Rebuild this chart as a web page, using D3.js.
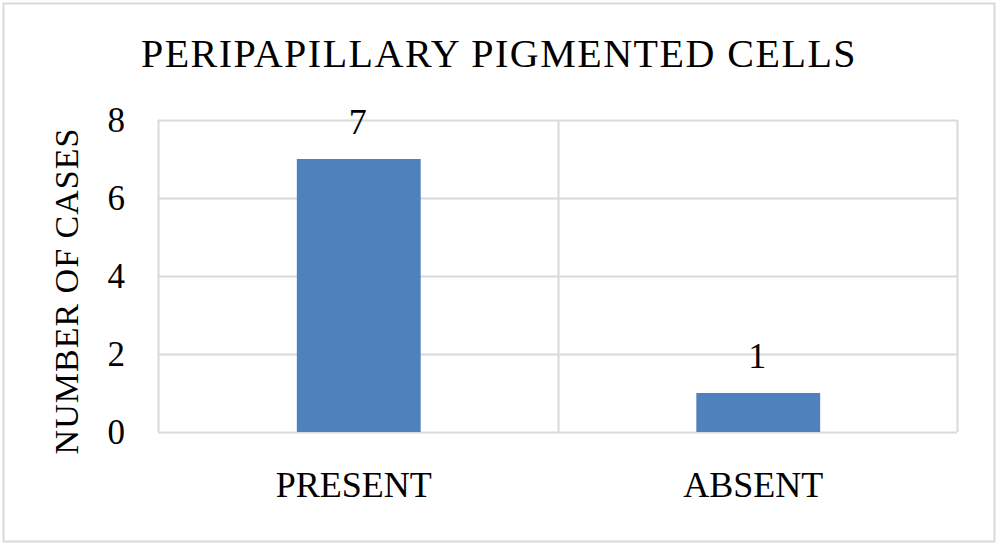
<!DOCTYPE html>
<html><head><meta charset="utf-8">
<script src="https://cdn.jsdelivr.net/npm/d3@7"></script>
<style>
html,body{margin:0;padding:0;background:#fff;}
svg{display:block;}
text{font-family:"Liberation Serif","Times New Roman",serif;fill:#000;}
</style></head>
<body>
<svg id="chart" width="1000" height="545"></svg>
<script>
const title = "PERIPAPILLARY PIGMENTED CELLS";
const yTitle = "NUMBER OF CASES";
const categories = ["PRESENT", "ABSENT"];
const values = [7, 1];
const yTicks = [0, 2, 4, 6, 8];

const svg = d3.select("#chart");
const W = 1000, H = 545;
const m = {left: 158, right: 957, top: 120, bottom: 432};

svg.append("rect").attr("x", 3.5).attr("y", 3.5).attr("width", 991).attr("height", 538)
  .attr("fill", "#fff").attr("stroke", "#d9d9d9").attr("stroke-width", 2);

const x = d3.scaleBand().domain(categories).range([m.left, m.right]).paddingInner(0).paddingOuter(0);
const y = d3.scaleLinear().domain([0, 8]).range([m.bottom, m.top]);

// horizontal gridlines
svg.append("g").selectAll("line").data(yTicks).join("line")
  .attr("x1", m.left).attr("x2", m.right)
  .attr("y1", d => Math.round(y(d)) + 0.5).attr("y2", d => Math.round(y(d)) + 0.5)
  .attr("stroke", "#d9d9d9").attr("stroke-width", 2);

// vertical category boundary lines
const bounds = [m.left, ...categories.map(c => x(c) + x.bandwidth())];
svg.append("g").selectAll("line").data(bounds).join("line")
  .attr("x1", d => Math.round(d) + 0.5).attr("x2", d => Math.round(d) + 0.5)
  .attr("y1", m.top).attr("y2", m.bottom)
  .attr("stroke", "#d9d9d9").attr("stroke-width", 2);

// bars
const barW = x.bandwidth() * 0.31;
svg.append("g").selectAll("rect").data(values).join("rect")
  .attr("x", (d, i) => x(categories[i]) + x.bandwidth() / 2 - barW / 2 + 1)
  .attr("width", barW)
  .attr("y", d => y(d))
  .attr("height", d => y(0) - y(d))
  .attr("fill", "#4f81bd");

// data labels
svg.append("g").selectAll("text").data(values).join("text")
  .attr("x", (d, i) => x(categories[i]) + x.bandwidth() / 2)
  .attr("y", d => y(d) - 25)
  .attr("text-anchor", "middle")
  .attr("font-size", 36)
  .text(d => d);

// y tick labels
const yAxis = d3.axisLeft(y).tickValues(yTicks).tickSize(0).tickPadding(0);
const gy = svg.append("g").attr("transform", `translate(${m.left - 33},0)`).call(yAxis);
gy.select(".domain").remove();
gy.selectAll("text").attr("font-size", 35).attr("font-family", '"Liberation Serif",serif')
  .attr("fill", "#000").attr("dy", "0.34em");

// x category labels
const xAxis = d3.axisBottom(x).tickSize(0).tickPadding(0);
const gx = svg.append("g").attr("transform", `translate(-4,${m.bottom + 65})`).call(xAxis);
gx.select(".domain").remove();
gx.selectAll("text").attr("font-size", 36).attr("font-family", '"Liberation Serif",serif')
  .attr("fill", "#000").attr("dy", 0);

// title
svg.append("text").attr("x", 499).attr("y", 67).attr("text-anchor", "middle")
  .attr("font-size", 40).attr("letter-spacing", 1.5).text(title);

// y axis title
svg.append("text").attr("transform", "translate(78,291) rotate(-90)")
  .attr("text-anchor", "middle").attr("font-size", 34).attr("letter-spacing", 1).text(yTitle);
</script>
</body></html>
